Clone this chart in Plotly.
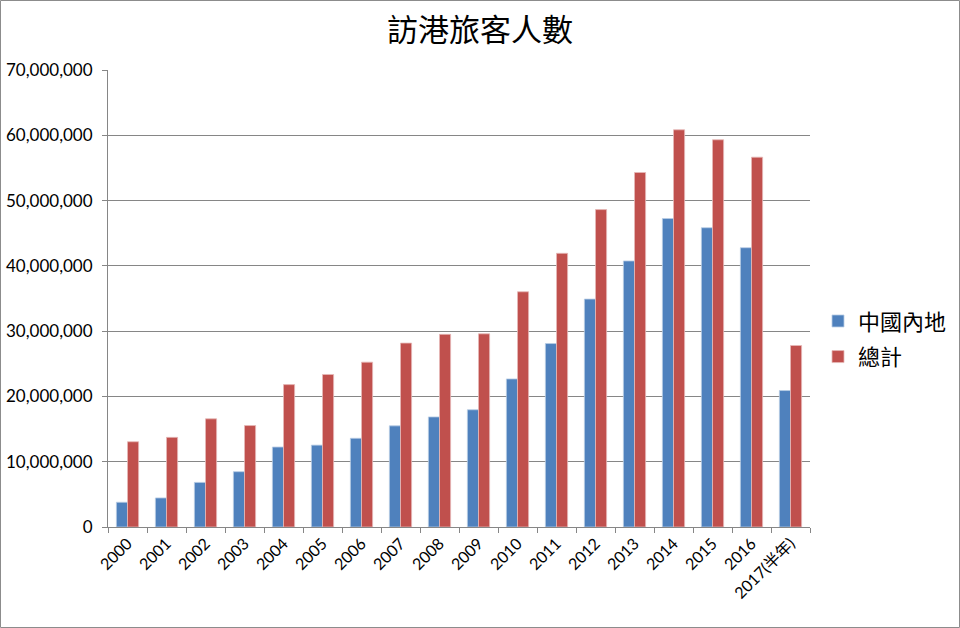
import plotly.graph_objects as go

categories = ["2000", "2001", "2002", "2003", "2004", "2005", "2006", "2007", "2008",
              "2009", "2010", "2011", "2012", "2013", "2014", "2015", "2016", "2017(半年)"]
mainland = [3_790_000, 4_450_000, 6_830_000, 8_470_000, 12_250_000, 12_540_000, 13_590_000,
            15_490_000, 16_860_000, 17_960_000, 22_680_000, 28_100_000, 34_910_000,
            40_750_000, 47_250_000, 45_840_000, 42_780_000, 20_900_000]
total = [13_060_000, 13_730_000, 16_570_000, 15_540_000, 21_810_000, 23_360_000, 25_250_000,
         28_170_000, 29_510_000, 29_590_000, 36_030_000, 41_920_000, 48_620_000,
         54_300_000, 60_840_000, 59_310_000, 56_650_000, 27_800_000]
series_names = ["中國內地", "總計"]
y_ticks = [0, 10_000_000, 20_000_000, 30_000_000, 40_000_000, 50_000_000, 60_000_000, 70_000_000]

grid = "#868686"
fig = go.Figure()
fig.add_trace(go.Bar(x=categories, y=mainland, name=series_names[0], legendgroup="a",
                     marker=dict(color="#4F81BD", line=dict(color="#B9CDE5", width=0.8))))
fig.add_trace(go.Bar(x=categories, y=total, name=series_names[1], legendgroup="b",
                     marker=dict(color="#C0504D", line=dict(color="#E6B9B8", width=0.8))))

fig.update_layout(
    width=960, height=628,
    margin=dict(l=108, r=150, t=70, b=101, autoexpand=False),
    paper_bgcolor="white", plot_bgcolor="white",
    barmode="group", bargap=0.43, bargroupgap=0,
    title=dict(text="訪港旅客人數", x=0.5, xref="container", xanchor="center", y=1 - 30 / 628, yanchor="middle",
               font=dict(family="Noto Sans CJK TC", size=31, color="black")),
    font=dict(family="Lato, Liberation Sans, sans-serif", size=14, color="black"),
    legend=dict(x=1.0114, y=0.411, xanchor="left", yanchor="middle",
                font=dict(family="Noto Sans CJK TC", size=22, color="black"),
                itemwidth=30, tracegroupgap=4),
    showlegend=True,
)
fig.update_xaxes(
    type="category", showline=True, linecolor=grid, linewidth=1, automargin=False,
    ticks="outside", tickson="boundaries", ticklen=5, tickcolor=grid,
    tickangle=-45, tickfont=dict(family="Lato, Noto Sans CJK TC, sans-serif", size=16),
    showgrid=False,
)
fig.update_yaxes(
    range=[0, 70_000_000], tickvals=y_ticks, tickformat=",d", automargin=False,
    showline=True, linecolor=grid, linewidth=1,
    ticks="outside", ticklen=5, tickcolor=grid, ticklabelstandoff=6,
    showgrid=True, gridcolor=grid, gridwidth=1,
    tickfont=dict(family="Lato, Liberation Sans, sans-serif", size=17),
    zeroline=False,
)
fig.add_shape(type="rect", xref="paper", yref="paper",
              x0=-107.5 / 702, x1=(959.5 - 108) / 702,
              y0=-100.5 / 457, y1=(627.5 - 101) / 457,
              line=dict(color="#8c8c8c", width=1), fillcolor="rgba(0,0,0,0)", layer="below")

fig.write_html("out.html", config={"displayModeBar": False},
               post_script="document.body.style.margin='0';")
